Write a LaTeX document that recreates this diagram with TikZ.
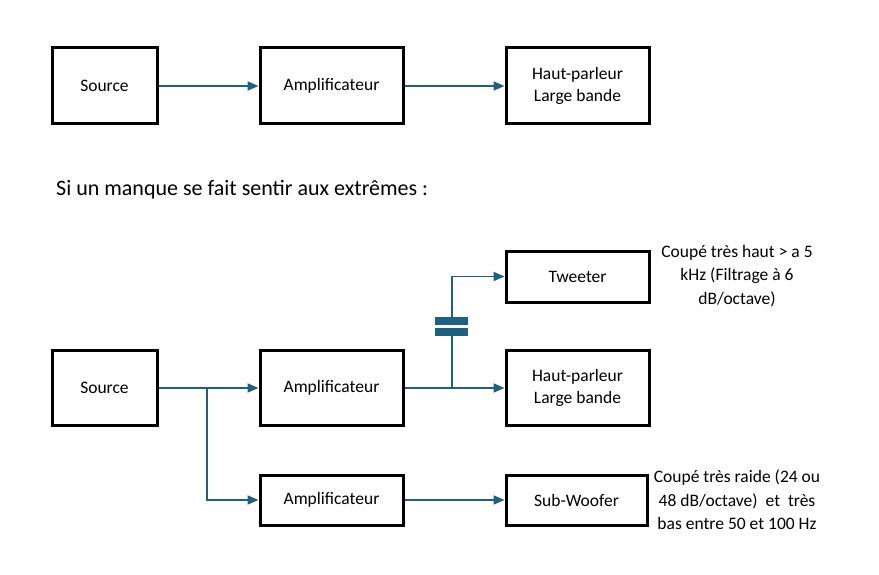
\documentclass[tikz,border=0pt]{standalone}
\usepackage{fontspec}
\setmainfont{Carlito}
\usetikzlibrary{arrows.meta}
\definecolor{wire}{RGB}{31,95,128}
\tikzset{
  blk/.style={draw=black, line width=3pt, minimum width=143pt, minimum height=76pt, inner sep=0pt, font=\fontsize{17.5}{22}\selectfont, align=center},
  conn/.style={draw=wire, line width=1.9pt, -{Triangle[length=11pt,width=9pt]}},
  wireline/.style={draw=wire, line width=1.9pt},
  note/.style={font=\fontsize{17.5}{23.5}\selectfont, align=center, inner sep=0pt},
}
\begin{document}
\begin{tikzpicture}[x=1pt,y=-1pt]
\useasboundingbox (0,0) rectangle (879,575);
% top row
\node[blk, minimum width=105pt] (s1) at (104.5,86) {Source};
\node[blk] (a1) at (331.5,86) {Amplificateur};
\node[blk] (h1) at (577.5,86) {Haut-parleur\\Large bande};
\draw[conn] (s1.east) -- (a1.west);
\draw[conn] (a1.east) -- (h1.west);
% heading
\node[anchor=west, inner sep=0pt, font=\fontsize{22}{26}\selectfont] (head) at (56,190) {Si un manque se fait sentir aux extrêmes :};
% bottom
\node[blk, minimum width=105pt, minimum height=75pt] (s2) at (104.5,388) {Source};
\node[blk, minimum height=75pt] (a2) at (331.5,388) {Amplificateur};
\node[blk, minimum height=50pt] (a3) at (331.5,500) {Amplificateur};
\node[blk, minimum height=51pt] (tw) at (577.5,276.5) {Tweeter};
\node[blk, minimum height=75pt] (h2) at (577.5,388) {Haut-parleur\\Large bande};
\node[blk, minimum width=141pt, minimum height=50pt] (sw) at (576.5,500) {Sub-Woofer};
\coordinate (j1) at (207,388);
\coordinate (j2) at (452,388);
\coordinate (cb) at (452,336);
\coordinate (ct) at (452,317);
\draw[conn] (s2.east) -- (a2.west);
\draw[conn] (j1) |- (a3.west);
\draw[conn] (a2.east) -- (h2.west);
\draw[conn] (a3.east) -- (sw.west);
\draw[wireline] (j2) -- (cb);
\draw[conn] (ct) |- (tw.west);
% capacitor plates
\fill[wire] (435,317) rectangle (468,325);
\fill[wire] (435,328) rectangle (468,336);
% notes
\node[note] (n1) at (737,276) {Coupé très haut > a 5\\kHz (Filtrage à 6\\dB/octave)};
\node[note] (n2) at (737,500) {Coupé très raide (24 ou\\48 dB/octave)\ \ et\ \ très\\bas entre 50 et 100 Hz};
\end{tikzpicture}
\end{document}
